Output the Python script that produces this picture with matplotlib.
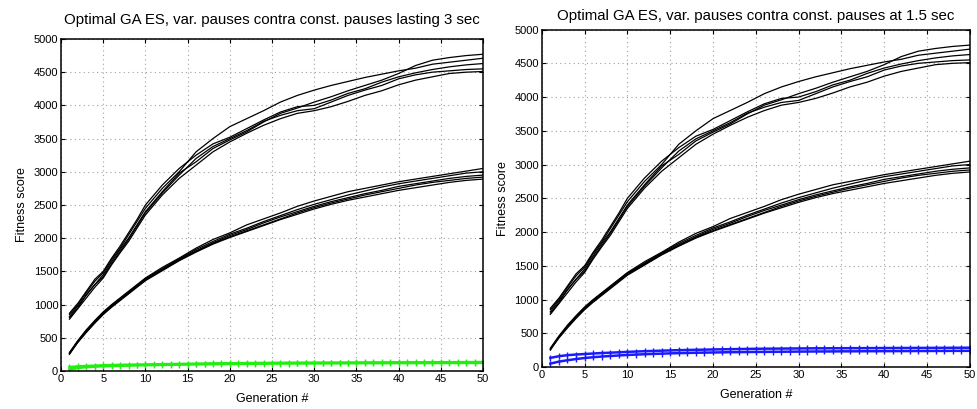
#!/usr/bin/env python3
"""Optimal GA ES: variable pauses vs constant pauses (two panels)."""

import matplotlib
matplotlib.use('Agg')
import matplotlib.pyplot as plt

plt.rcParams['font.family'] = ['Liberation Sans', 'DejaVu Sans']

# generations at which the black runs were sampled
GENS = [1, 2, 3, 4, 5, 6, 7, 8, 9, 10, 12, 14, 16, 18, 20, 22, 24, 26, 28, 30,
        32, 34, 36, 38, 40, 42, 44, 46, 48, 50]

# variable-pause runs, fast group (same runs shown in both panels)
upper_1 = [850, 1000, 1180, 1350, 1480, 1680, 1850, 2050, 2250, 2450, 2750, 3000, 3300, 3500, 3680,
           3800, 3920, 4050, 4150, 4230, 4300, 4360, 4420, 4470, 4520, 4560, 4620, 4650, 4680, 4710]
upper_2 = [800, 950, 1150, 1300, 1450, 1650, 1830, 2000, 2200, 2400, 2700, 2980, 3150, 3350, 3480,
           3600, 3750, 3880, 3960, 4050, 4130, 4220, 4300, 4380, 4480, 4600, 4680, 4720, 4750, 4770]
upper_3 = [870, 1020, 1200, 1380, 1500, 1700, 1880, 2080, 2280, 2500, 2800, 3050, 3250, 3420, 3520,
           3650, 3780, 3900, 3980, 4000, 4080, 4180, 4250, 4350, 4430, 4490, 4540, 4580, 4610, 4630]
upper_4 = [820, 980, 1140, 1300, 1420, 1620, 1800, 1980, 2180, 2380, 2680, 2950, 3200, 3380, 3500,
           3620, 3760, 3850, 3920, 3950, 4050, 4150, 4230, 4300, 4400, 4460, 4500, 4520, 4540, 4550]
upper_5 = [780, 940, 1100, 1260, 1400, 1600, 1780, 1950, 2150, 2350, 2650, 2900, 3100, 3300, 3450,
           3580, 3700, 3800, 3880, 3920, 3980, 4060, 4150, 4220, 4310, 4380, 4430, 4480, 4500, 4510]

# variable-pause runs, slow group
middle_1 = [280, 460, 620, 760, 890, 1000, 1100, 1200, 1300, 1400, 1560, 1700, 1850, 1980, 2080,
            2200, 2290, 2380, 2480, 2560, 2630, 2700, 2750, 2800, 2850, 2890, 2930, 2970, 3010, 3050]
middle_2 = [260, 450, 610, 750, 880, 990, 1090, 1190, 1290, 1390, 1540, 1690, 1830, 1950, 2060,
            2150, 2250, 2340, 2430, 2510, 2580, 2650, 2710, 2770, 2820, 2860, 2900, 2940, 2980, 3000]
middle_3 = [270, 440, 600, 740, 870, 980, 1080, 1180, 1280, 1380, 1530, 1680, 1810, 1930, 2040,
            2130, 2230, 2320, 2400, 2480, 2550, 2610, 2670, 2720, 2780, 2820, 2860, 2900, 2930, 2950]
middle_4 = [250, 440, 590, 730, 860, 970, 1070, 1170, 1270, 1370, 1520, 1670, 1800, 1920, 2020,
            2110, 2200, 2290, 2380, 2460, 2530, 2590, 2650, 2700, 2750, 2800, 2840, 2870, 2900, 2920]
middle_5 = [260, 430, 580, 720, 850, 960, 1060, 1160, 1260, 1360, 1510, 1660, 1790, 1910, 2010,
            2100, 2190, 2280, 2360, 2440, 2510, 2570, 2620, 2670, 2720, 2760, 2800, 2840, 2870, 2890]

black_runs = [upper_1, upper_2, upper_3, upper_4, upper_5,
              middle_1, middle_2, middle_3, middle_4, middle_5]

# constant-pause runs, every generation 1..50
CONST_GENS = list(range(1, 51))
green_a = [60, 68, 75, 80, 86, 89, 92, 94, 96, 98, 100, 102, 104, 106, 108, 110, 112, 114, 115, 116,
           118, 119, 120, 121, 122, 123, 124, 124, 125, 125, 126, 126, 127, 127, 128, 128, 129, 129, 130, 130,
           130, 131, 131, 132, 132, 132, 133, 133, 134, 134]
green_b = [20, 45, 58, 65, 70, 74, 78, 81, 84, 87, 89, 91, 93, 95, 97, 99, 101, 103, 104, 106,
           107, 108, 109, 110, 111, 112, 112, 113, 113, 114, 114, 115, 115, 116, 116, 117, 117, 117, 118, 118,
           118, 119, 119, 119, 120, 120, 120, 121, 121, 121]
blue_a = [135, 160, 175, 185, 192, 200, 207, 212, 218, 224, 229, 234, 238, 242, 246, 249, 252, 255, 257, 260,
          262, 264, 266, 268, 270, 271, 272, 273, 274, 275, 276, 277, 277, 278, 278, 279, 279, 280, 280, 281,
          281, 282, 282, 283, 283, 284, 284, 285, 285, 286]
blue_b = [50, 80, 100, 118, 133, 145, 155, 163, 171, 178, 184, 189, 194, 198, 202, 205, 208, 211, 213, 215,
          217, 219, 220, 222, 223, 224, 225, 226, 227, 228, 229, 230, 230, 231, 232, 232, 233, 234, 234, 235,
          235, 236, 236, 237, 237, 238, 238, 239, 239, 240]

X_TICKS = list(range(0, 51, 5))
Y_TICKS = list(range(0, 5001, 500))

TITLES = ['Optimal GA ES, var. pauses contra const. pauses lasting 3 sec',
          'Optimal GA ES, var. pauses contra const. pauses at 1.5 sec']
TITLE_PADS = [11, 7]
CONST_RUNS = [(green_a, green_b, '#22ee11'), (blue_a, blue_b, '#1a1aff')]

fig = plt.figure(figsize=(9.78, 4.09), dpi=100)
axes = [fig.add_axes([0.0624, 0.093, 0.4315, 0.8117]),
        fig.add_axes([0.554, 0.1027, 0.4376, 0.825])]

for ax, title, tpad, (ca, cb, col) in zip(axes, TITLES, TITLE_PADS, CONST_RUNS):
    for run in black_runs:
        ax.plot(GENS, run, color='black', linewidth=0.9)
    for run in (ca, cb):
        ax.plot(CONST_GENS, run, color=col, linewidth=1.8, marker='|',
                markersize=4, markeredgewidth=1.0)
    ax.set_xlim(0, 50)
    ax.set_ylim(0, 5000)
    ax.set_xticks(X_TICKS)
    ax.set_yticks(Y_TICKS)
    ax.tick_params(direction='in', top=True, right=True, labelsize=8, length=3, pad=2)
    ax.grid(True, color='#a0a0a0', linestyle=(0, (1, 3)), linewidth=0.8)
    for sp in ax.spines.values():
        sp.set_linewidth(1.1)
    ax.set_title(title, fontsize=10.8, pad=tpad)
    ax.set_xlabel('Generation #', fontsize=9, labelpad=7)
    ax.set_ylabel('Fitness score', fontsize=9, labelpad=4)

plt.savefig('out.png', dpi=100)
